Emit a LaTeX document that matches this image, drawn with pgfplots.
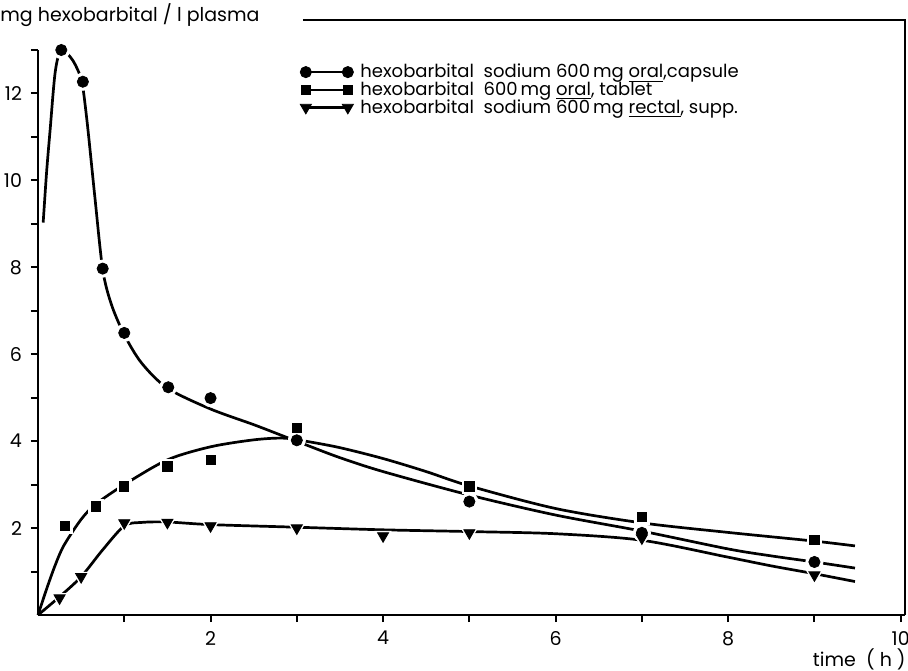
\documentclass[border=0pt]{standalone}
\usepackage{fontspec}
\setmainfont{Poppins}
\usepackage{pgfplots}
\pgfplotsset{compat=1.18}
\begin{document}
\begin{tikzpicture}
\useasboundingbox (-19pt,-27.5pt) rectangle (435pt,307.5pt);
\begin{axis}[
  scale only axis, width=433.5pt, height=282.5pt,
  at={(0pt,0pt)}, anchor=south west,
  xmin=0, xmax=10.05, ymin=0, ymax=13,
  clip=false,
  axis x line=bottom, axis y line=left,
  axis line style={-, line width=1.4pt},
  xtick={1,...,10}, xticklabels={,2,,4,,6,,8,,10},
  ytick={1,...,13}, yticklabels={,2,,4,,6,,8,,10,,12,},
  tick align=outside, major tick length=3.5pt,
  tick style={line width=1pt, black},
  /pgf/number format/assume math mode=true,
  tick label style={font=\fontsize{9.5}{10}\selectfont},
  xticklabel style={yshift=-1pt},
  yticklabel style={xshift=-1pt},
  legend style={at={(0.302,0.979)}, anchor=north west, draw=none, fill=none,
    font=\fontsize{9}{9}\selectfont, inner sep=0pt, row sep=-1pt,
    nodes={inner ysep=1pt, inner xsep=3.5pt, text depth=1pt}},
  legend cell align=left,
  legend image code/.code={\draw[line width=1.1pt] (0pt,0pt) -- (21pt,0pt);
    \draw[#1] plot coordinates {(0pt,0pt) (21pt,0pt)};},
]
% fitted curves
\addplot[smooth, line width=1.35pt, forget plot] coordinates {
 (0.06,9.03) (0.1,10.2) (0.14,11.15) (0.2,12.5) (0.27,13.0) (0.4,12.77)
 (0.5,12.35) (0.53,12.0) (0.58,11.15) (0.66,9.6) (0.75,7.95) (0.85,7.15)
 (1.0,6.45) (1.2,5.8) (1.5,5.22) (2.0,4.74) (2.5,4.38) (2.84,4.12) (3.1,3.92)
 (3.5,3.62) (4.0,3.3) (5.0,2.76) (6.0,2.3) (7.0,1.93) (8.0,1.52) (8.5,1.36)
 (9.0,1.22) (9.47,1.08)};
\addplot[smooth, line width=1.35pt, forget plot] coordinates {
 (0,0) (0.1,0.6) (0.2,1.15) (0.3,1.6) (0.5,2.2) (0.67,2.55) (1.0,3.0)
 (1.5,3.57) (2.0,3.87) (2.5,4.03) (2.84,4.07) (3.1,4.0) (3.5,3.85) (4.0,3.6)
 (4.5,3.3) (5.0,2.97) (6.0,2.45) (7.0,2.12) (8.0,1.9) (9.0,1.7) (9.47,1.59)};
\addplot[smooth, line width=1.35pt, forget plot] coordinates {
 (0,0) (0.25,0.42) (0.5,0.88) (0.75,1.5) (1.0,2.05) (1.2,2.13) (1.5,2.14)
 (2.0,2.08) (3.0,2.02) (4.0,1.96) (5.0,1.92) (6.0,1.87) (7.0,1.72)
 (8.0,1.33) (8.5,1.13) (9.0,0.95) (9.47,0.77)};
% white halos around the points
\addplot[only marks, mark=*, mark size=4.3pt, white, forget plot] coordinates {
 (0.27,13.0) (0.52,12.27) (0.75,7.97) (1.0,6.49) (1.51,5.24) (2.0,4.99)
 (3.0,4.02) (5.0,2.61) (7.0,1.89) (9.0,1.22)};
\addplot[only marks, mark=square*, mark size=3.6pt, white, forget plot] coordinates {
 (0.31,2.05) (0.67,2.5) (1.0,2.96) (1.5,3.42) (2.0,3.56) (3.0,4.3) (5.0,2.96)
 (7.0,2.25) (9.0,1.72)};
\addplot[only marks, mark=triangle*, mark size=4.6pt, white, mark options={rotate=180}, forget plot] coordinates {
 (0.25,0.39) (0.5,0.88) (1.0,2.12) (1.5,2.13) (2.0,2.05) (3.0,2.0) (4.0,1.82)
 (5.0,1.89) (7.0,1.77) (9.0,0.92)};
% data points
\addplot[only marks, mark=*, mark size=2.8pt, black] coordinates {
 (0.27,13.0) (0.52,12.27) (0.75,7.97) (1.0,6.49) (1.51,5.24) (2.0,4.99)
 (3.0,4.02) (5.0,2.61) (7.0,1.89) (9.0,1.22)};
\addlegendentry{hexobarbital\ \ sodium 600\,mg \underline{oral},capsule}
\addplot[only marks, mark=square*, mark size=2.3pt, black] coordinates {
 (0.31,2.05) (0.67,2.5) (1.0,2.96) (1.5,3.42) (2.0,3.56) (3.0,4.3) (5.0,2.96)
 (7.0,2.25) (9.0,1.72)};
\addlegendentry{hexobarbital\ \ 600\,mg \underline{oral}, tablet}
\addplot[only marks, mark=triangle*, mark size=3.2pt, black, mark options={rotate=180}] coordinates {
 (0.25,0.39) (0.5,0.88) (1.0,2.12) (1.5,2.13) (2.0,2.05) (3.0,2.0) (4.0,1.82)
 (5.0,1.89) (7.0,1.77) (9.0,0.92)};
\addlegendentry{hexobarbital\ \ sodium 600\,mg \underline{rectal}, supp.}
% frame lines at top and right
\draw[line width=1.4pt] (axis cs:3.07,13.69) -- (axis cs:10.05,13.69) -- (axis cs:10.05,0);
\end{axis}
\node[anchor=base west, font=\fontsize{9.5}{10}\selectfont, inner sep=0pt] at (-19pt,296.5pt) {mg hexobarbital / l plasma};
\node[anchor=north east, font=\fontsize{9.5}{10}\selectfont, inner sep=0pt] at (434pt,-16.5pt) {time\ \ ( h )};
\end{tikzpicture}
\end{document}
